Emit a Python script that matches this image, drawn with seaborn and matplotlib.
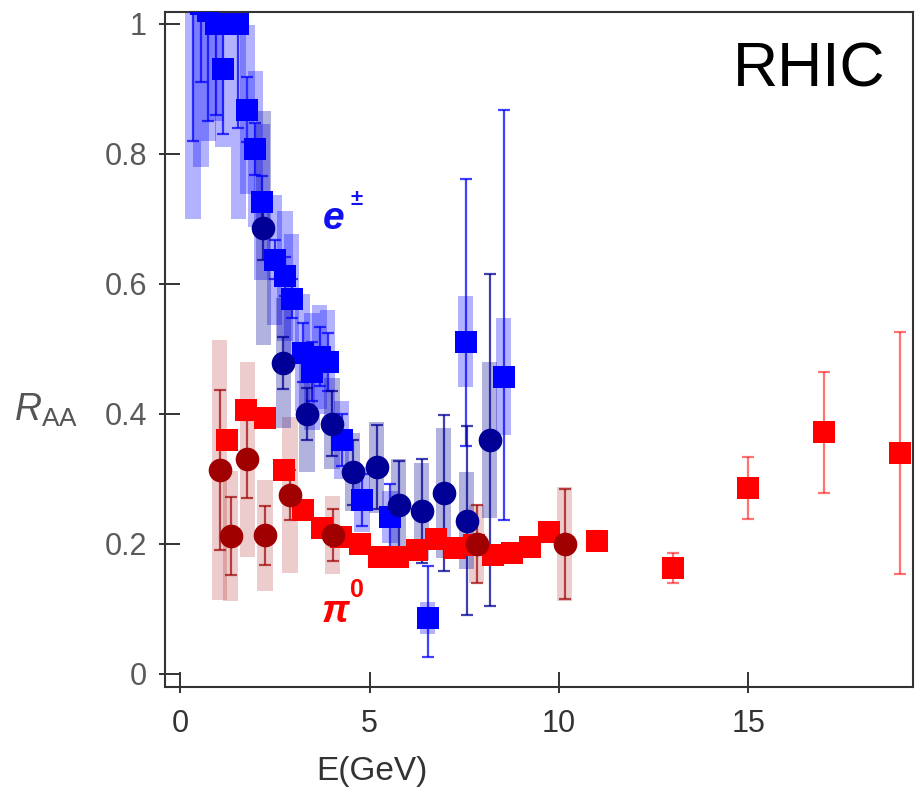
import numpy as np
import pandas as pd
import matplotlib
matplotlib.use("Agg")
import matplotlib.pyplot as plt
import seaborn as sns

# ---- pi0 R_AA (red squares) ----
pi0_E = [1.25, 1.75, 2.25, 2.75, 3.25, 3.75, 4.25, 4.75, 5.25, 5.75, 6.25, 6.75,
         7.25, 7.75, 8.25, 8.75, 9.25, 9.75, 11.0, 13.0, 15.0, 17.0, 19.0]
pi0_R = [0.360, 0.406, 0.393, 0.314, 0.252, 0.225, 0.210, 0.200, 0.180, 0.180, 0.190, 0.207,
         0.194, 0.198, 0.183, 0.186, 0.195, 0.218, 0.205, 0.163, 0.286, 0.372, 0.340]
pi0_err = [0.01, 0.01, 0.01, 0.01, 0.01, 0.01, 0.01, 0.01, 0.01, 0.01, 0.01, 0.01,
           0.01, 0.01, 0.01, 0.01, 0.01, 0.012, 0.015, 0.023, 0.048, 0.093, 0.186]

# ---- pi0 R_AA, second set (dark red circles) ----
pi0b_E = [1.05, 1.34, 1.77, 2.24, 2.90, 4.03, 7.83, 10.15]
pi0b_R = [0.314, 0.212, 0.330, 0.213, 0.275, 0.214, 0.200, 0.200]
pi0b_err = [0.123, 0.060, 0.060, 0.045, 0.038, 0.040, 0.060, 0.085]
pi0b_sys = [0.200, 0.100, 0.150, 0.085, 0.120, 0.060, 0.060, 0.087]

# ---- non-photonic electrons, set 1 (blue squares) ----
ele_E = [0.34, 0.55, 0.74, 0.95, 1.13, 1.53, 1.77, 1.98, 2.16, 2.50, 2.77, 2.95,
         3.24, 3.48, 3.69, 3.90, 4.27, 4.80, 5.54, 6.54, 7.54, 8.54]
ele_R = [1.060, 1.030, 1.020, 1.000, 0.930, 1.000, 0.868, 0.808, 0.726, 0.637, 0.612, 0.577,
         0.494, 0.465, 0.488, 0.480, 0.360, 0.268, 0.242, 0.086, 0.511, 0.457]
ele_err_lo = [0.24, 0.12, 0.17, 0.14, 0.10, 0.16, 0.05, 0.04, 0.04, 0.03, 0.03, 0.03,
              0.045, 0.045, 0.045, 0.045, 0.04, 0.04, 0.05, 0.06, 0.16, 0.22]
ele_err_hi = [0.24, 0.12, 0.17, 0.14, 0.10, 0.16, 0.05, 0.04, 0.04, 0.03, 0.03, 0.03,
              0.045, 0.045, 0.045, 0.045, 0.04, 0.04, 0.05, 0.08, 0.25, 0.41]
ele_sys = [0.36, 0.25, 0.20, 0.15, 0.12, 0.30, 0.13, 0.12, 0.12, 0.10, 0.10, 0.10,
           0.09, 0.09, 0.08, 0.08, 0.06, 0.05, 0.04, 0.025, 0.07, 0.09]

# ---- non-photonic electrons, set 2 (navy circles) ----
ele2_E = [2.19, 2.72, 3.35, 4.01, 4.56, 5.19, 5.77, 6.38, 6.96, 7.57, 8.17]
ele2_R = [0.686, 0.478, 0.400, 0.385, 0.310, 0.318, 0.260, 0.250, 0.279, 0.236, 0.360]
ele2_err = [0.05, 0.04, 0.04, 0.05, 0.05, 0.065, 0.068, 0.08, 0.12, 0.145, 0.255]
ele2_sys = [0.18, 0.10, 0.09, 0.07, 0.06, 0.07, 0.07, 0.075, 0.10, 0.075, 0.12]

x_ticks = [0, 5, 10, 15]
y_ticks = [0, 0.2, 0.4, 0.6, 0.8, 1]
y_tick_labels = ["0", "0.2", "0.4", "0.6", "0.8", "1"]

RED = "#FF0000"
DARKRED = "#A00000"
BLUE = "#0000FF"
NAVY = "#000096"

sns.set_theme(style="white")
plt.rcParams["font.family"] = ["Liberation Sans", "DejaVu Sans"]
plt.rcParams["mathtext.fontset"] = "custom"
plt.rcParams["mathtext.rm"] = "Liberation Sans"
plt.rcParams["mathtext.it"] = "Liberation Sans:italic"
plt.rcParams["mathtext.bf"] = "Liberation Sans:bold"

fig = plt.figure(figsize=(9.19, 8.01), dpi=100)
ax = fig.add_axes([165 / 919, 1 - 687 / 801, 748 / 919, 675 / 801])

pi0 = pd.DataFrame({"E": pi0_E, "R": pi0_R, "err": pi0_err})
pi0b = pd.DataFrame({"E": pi0b_E, "R": pi0b_R, "err": pi0b_err, "sys": pi0b_sys})
ele = pd.DataFrame({"E": ele_E, "R": ele_R, "lo": ele_err_lo, "hi": ele_err_hi, "sys": ele_sys})
ele2 = pd.DataFrame({"E": ele2_E, "R": ele2_R, "err": ele2_err, "sys": ele2_sys})

BOX_W = 0.40

# systematic uncertainty boxes
ax.bar(pi0b["E"], 2 * pi0b["sys"], bottom=pi0b["R"] - pi0b["sys"], width=BOX_W,
       color=DARKRED, alpha=0.2, linewidth=0, zorder=1)
ax.bar(ele["E"], 2 * ele["sys"], bottom=ele["R"] - ele["sys"], width=BOX_W,
       color=BLUE, alpha=0.3, linewidth=0, zorder=1)
ax.bar(ele2["E"], 2 * ele2["sys"], bottom=ele2["R"] - ele2["sys"], width=BOX_W,
       color=NAVY, alpha=0.3, linewidth=0, zorder=1)

# statistical error bars
eb = dict(fmt="none", elinewidth=1.6, capsize=4, capthick=1.6)
ax.errorbar(pi0["E"], pi0["R"], yerr=pi0["err"], ecolor=RED, alpha=0.55, zorder=2, **eb)
ax.errorbar(ele["E"], ele["R"], yerr=[ele["lo"], ele["hi"]], ecolor=BLUE, alpha=0.75, zorder=2, **eb)
ax.errorbar(ele2["E"], ele2["R"], yerr=ele2["err"], ecolor=NAVY, alpha=0.75, zorder=2, **eb)
ax.errorbar(pi0b["E"], pi0b["R"], yerr=pi0b["err"], ecolor=DARKRED, alpha=0.7, zorder=2, **eb)

# data points
sns.scatterplot(data=pi0, x="E", y="R", ax=ax, marker="s", s=250, color=RED,
                linewidth=0, zorder=3, legend=False)
sns.scatterplot(data=ele, x="E", y="R", ax=ax, marker="s", s=240, color=BLUE,
                linewidth=0, zorder=4, legend=False)
sns.scatterplot(data=ele2, x="E", y="R", ax=ax, marker="o", s=290, color=NAVY,
                linewidth=0, zorder=5, legend=False)
sns.scatterplot(data=pi0b, x="E", y="R", ax=ax, marker="o", s=290, color=DARKRED,
                linewidth=0, zorder=6, legend=False)

ax.set_xlim(-0.40, 19.35)
ax.set_ylim(-0.020, 1.018)

# frame and ticks
for sp in ax.spines.values():
    sp.set_visible(True)
    sp.set_color("#333333")
    sp.set_linewidth(1.5)

ax.set_xticks(x_ticks)
ax.set_xticklabels([str(t) for t in x_ticks])
ax.set_yticks(y_ticks)
ax.set_yticklabels(y_tick_labels)
ax.set_xticks(x_ticks, minor=True)
ax.set_yticks(y_ticks, minor=True)
ax.xaxis.remove_overlapping_locs = False
ax.yaxis.remove_overlapping_locs = False
ax.tick_params(which="major", direction="in", length=11, width=1.4, color="#333333",
               bottom=True, left=True, top=False, right=False)
ax.tick_params(which="minor", direction="out", length=4, width=1.4, color="#333333",
               bottom=True, left=True, top=False, right=False, labelbottom=False, labelleft=False)
ax.tick_params(axis="y", which="major", labelsize=22, labelcolor="#5a5a5a", pad=13)
ax.tick_params(axis="x", which="major", labelsize=22, labelcolor="#333333", pad=16)
ax.grid(False)

ax.set_xlabel("E(GeV)", fontsize=24, color="#333333")
ax.xaxis.set_label_coords(0.277, -0.102)
ax.set_ylabel(r"$R_{\mathrm{AA}}$", fontsize=27, color="#555555", rotation=0,
              ha="center", va="center")
ax.yaxis.set_label_coords(-0.159, 0.41)

# annotations
ax.text(0.9626, 0.914, "RHIC", transform=ax.transAxes, ha="right", va="center",
        fontsize=45, color="black")
ax.text(4.06, 0.700, "e", ha="center", va="center", fontsize=28, color="#1010F0",
        fontweight="bold", fontstyle="italic")
ax.text(4.67, 0.729, "\u00b1", ha="center", va="center", fontsize=16, color="#1010F0",
        fontweight="bold")
ax.text(4.11, 0.095, "\u03c0", ha="center", va="center", fontsize=28, color=RED,
        fontweight="bold", fontstyle="italic")
ax.text(4.67, 0.129, "0", ha="center", va="center", fontsize=18, color=RED,
        fontweight="bold")

fig.savefig("out.png", dpi=100, facecolor="white")
